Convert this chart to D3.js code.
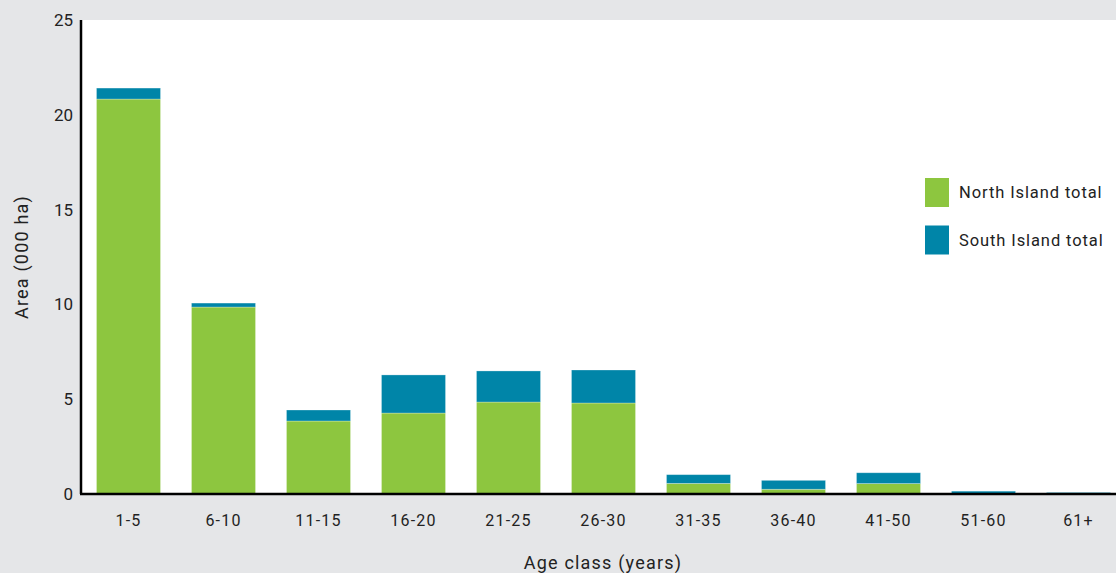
<!DOCTYPE html>
<html><head><meta charset="utf-8">
<script src="https://cdn.jsdelivr.net/npm/d3@7"></script>
<style>
html,body{margin:0;padding:0;background:#e5e6e8;}
svg{display:block;}
text{font-family:Roboto, "DejaVu Sans", sans-serif;fill:#222;}
</style></head>
<body>
<svg id="c" width="1116" height="573"></svg>
<script>
const categories = ["1-5","6-10","11-15","16-20","21-25","26-30","31-35","36-40","41-50","51-60","61+"];
const northIsland = [20.83, 9.86, 3.85, 4.27, 4.85, 4.80, 0.56, 0.25, 0.55, 0.02, 0.0];
const southIsland = [0.58, 0.21, 0.58, 2.01, 1.64, 1.74, 0.46, 0.47, 0.57, 0.13, 0.08];
const yTicks = [0, 5, 10, 15, 20, 25];
const seriesNames = ["North Island total", "South Island total"];
const colors = ["#8dc63f", "#0085a8"];

(function () {
const svg = d3.select("#c");
const mLeft = 81, mTop = 20, mBottom = 494, mRight = 1116;

svg.append("rect").attr("x", mLeft).attr("y", mTop).attr("width", mRight - mLeft).attr("height", mBottom - mTop).attr("fill", "#fff");

const x = d3.scaleBand().domain(categories).range([mLeft, mLeft + 11 * 95]).paddingInner(0.326).paddingOuter(0.163);
const y = d3.scaleLinear().domain([0, 25]).range([mBottom, mTop]);

const rows = categories.map((c, i) => ({cat: c, north: northIsland[i], south: southIsland[i]}));
const stack = d3.stack().keys(["north", "south"])(rows);

svg.append("g").selectAll("g").data(stack).join("g")
  .attr("fill", (d, i) => colors[i])
  .selectAll("rect").data(d => d).join("rect")
  .attr("x", d => x(d.data.cat))
  .attr("width", x.bandwidth())
  .attr("y", d => y(d[1]))
  .attr("height", d => Math.max(0, y(d[0]) - y(d[1])))
  .attr("stroke", "rgba(255,255,255,0.35)")
  .attr("stroke-width", 0.8);

// y axis
const ya = svg.append("g").attr("transform", `translate(${mLeft},0)`)
  .call(d3.axisLeft(y).tickValues(yTicks).tickSize(0).tickPadding(8).tickFormat(d3.format("d")));
ya.select(".domain").attr("stroke", "#000").attr("stroke-width", 2.5).attr("d", `M0,${mTop}V${mBottom}`);
ya.selectAll("text").attr("font-size", 17).attr("fill", "#222").style("font-family", "Roboto, sans-serif");

// x axis
const xa = svg.append("g").attr("transform", `translate(0,${mBottom})`)
  .call(d3.axisBottom(x).tickSize(0).tickPadding(21));
xa.select(".domain").attr("stroke", "#000").attr("stroke-width", 2.5).attr("d", `M${mLeft - 1},0H${mRight}`);
xa.selectAll("text").attr("font-size", 16).attr("fill", "#222").style("letter-spacing", "1.2px").style("font-family", "Roboto, sans-serif");

// axis titles
svg.append("text").attr("transform", `translate(28,${(mTop + mBottom) / 2}) rotate(-90)`)
  .attr("text-anchor", "middle").attr("font-size", 18).style("letter-spacing", "1.2px").text("Area (000 ha)");
svg.append("text").attr("x", 603).attr("y", 569).attr("text-anchor", "middle")
  .attr("font-size", 18).style("letter-spacing", "1.2px").text("Age class (years)");

// legend
const lg = svg.append("g");
seriesNames.forEach((n, i) => {
  const yy = 178 + i * 47.5;
  lg.append("rect").attr("x", 925).attr("y", yy).attr("width", 24).attr("height", 29).attr("fill", colors[i]);
  lg.append("text").attr("x", 959).attr("y", yy + 20).attr("font-size", 16.5).style("letter-spacing", "0.9px").text(n);
});
})();
</script>
</body></html>
